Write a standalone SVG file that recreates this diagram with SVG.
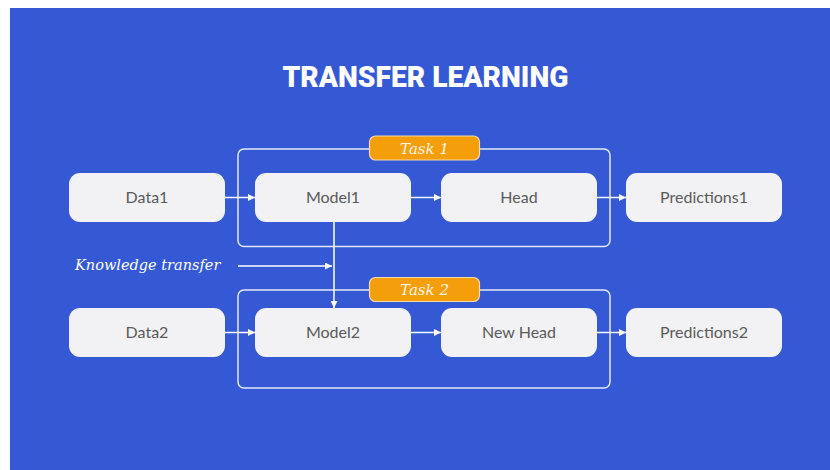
<svg xmlns="http://www.w3.org/2000/svg" width="830" height="470" viewBox="0 0 830 470">
  <defs>
    <marker id="arrow" viewBox="0 0 10 10" refX="10" refY="5" markerWidth="7" markerHeight="7" markerUnits="userSpaceOnUse" orient="auto">
      <path d="M0,0 L10,5 L0,10 z" fill="#ffffff"/>
    </marker>
    <style>
      .node rect { fill: #f2f2f4; }
      .node text { font-family: Lato, "Open Sans", sans-serif; font-size: 16px; fill: #5a5a5a; text-anchor: middle; }
      .frame { fill: none; stroke: #e4e8f6; stroke-width: 1.5; }
      .tag rect { fill: #f59e0b; stroke: #f6d9a8; stroke-width: 1.2; }
      .tag text { font-family: "DejaVu Serif", "Liberation Serif", serif; font-style: italic; font-size: 15px; fill: #fff6e6; text-anchor: middle; }
      .edge { fill: none; stroke: #ffffff; stroke-width: 1.5; marker-end: url(#arrow); }
      .title { font-family: Roboto, "Liberation Sans", sans-serif; font-weight: 900; font-size: 30px; fill: #ffffff; text-anchor: middle; }
      .note { font-family: "DejaVu Serif", "Liberation Serif", serif; font-style: italic; font-size: 14.5px; fill: #ffffff; }
    </style>
  </defs>

  <rect x="0" y="0" width="830" height="470" fill="#ffffff"/>
  <rect x="10" y="8" width="820" height="462" fill="#3558d4"/>

  <text class="title" x="425.5" y="87" textLength="286" lengthAdjust="spacingAndGlyphs">TRANSFER LEARNING</text>

  <!-- task frames -->
  <g id="task1">
    <rect class="frame" x="238" y="149" width="372" height="97.5" rx="6"/>
    <g class="tag">
      <rect x="369.5" y="136" width="110" height="24" rx="6"/>
      <text x="424.5" y="153.5">Task 1</text>
    </g>
  </g>
  <g id="task2">
    <rect class="frame" x="238" y="290" width="372" height="98" rx="6"/>
    <g class="tag">
      <rect x="369.5" y="277.5" width="110" height="24" rx="6"/>
      <text x="424.5" y="295">Task 2</text>
    </g>
  </g>

  <!-- connectors -->
  <g id="connectors">
    <line class="edge" x1="225" y1="197.5" x2="255" y2="197.5"/>
    <line class="edge" x1="411" y1="197.5" x2="441" y2="197.5"/>
    <line class="edge" x1="597" y1="197.5" x2="626" y2="197.5"/>
    <line class="edge" x1="225" y1="332.5" x2="255" y2="332.5"/>
    <line class="edge" x1="411" y1="332.5" x2="441" y2="332.5"/>
    <line class="edge" x1="597" y1="332.5" x2="626" y2="332.5"/>
    <line class="edge" x1="334" y1="222" x2="334" y2="308"/>
    <line class="edge" x1="238" y1="266" x2="332" y2="266"/>
  </g>

  <text class="note" x="75" y="270">Knowledge transfer</text>

  <!-- row 1 -->
  <g id="data1" class="node">
    <rect x="69" y="173" width="156" height="49" rx="11"/>
    <text x="147" y="203">Data1</text>
  </g>
  <g id="model1" class="node">
    <rect x="255" y="173" width="156" height="49" rx="11"/>
    <text x="333" y="203">Model1</text>
  </g>
  <g id="head" class="node">
    <rect x="441" y="173" width="156" height="49" rx="11"/>
    <text x="519" y="203">Head</text>
  </g>
  <g id="predictions1" class="node">
    <rect x="626" y="173" width="156" height="49" rx="11"/>
    <text x="704" y="203">Predictions1</text>
  </g>

  <!-- row 2 -->
  <g id="data2" class="node">
    <rect x="69" y="308" width="156" height="49" rx="11"/>
    <text x="147" y="338">Data2</text>
  </g>
  <g id="model2" class="node">
    <rect x="255" y="308" width="156" height="49" rx="11"/>
    <text x="333" y="338">Model2</text>
  </g>
  <g id="newhead" class="node">
    <rect x="441" y="308" width="156" height="49" rx="11"/>
    <text x="519" y="338">New Head</text>
  </g>
  <g id="predictions2" class="node">
    <rect x="626" y="308" width="156" height="49" rx="11"/>
    <text x="704" y="338">Predictions2</text>
  </g>
</svg>
